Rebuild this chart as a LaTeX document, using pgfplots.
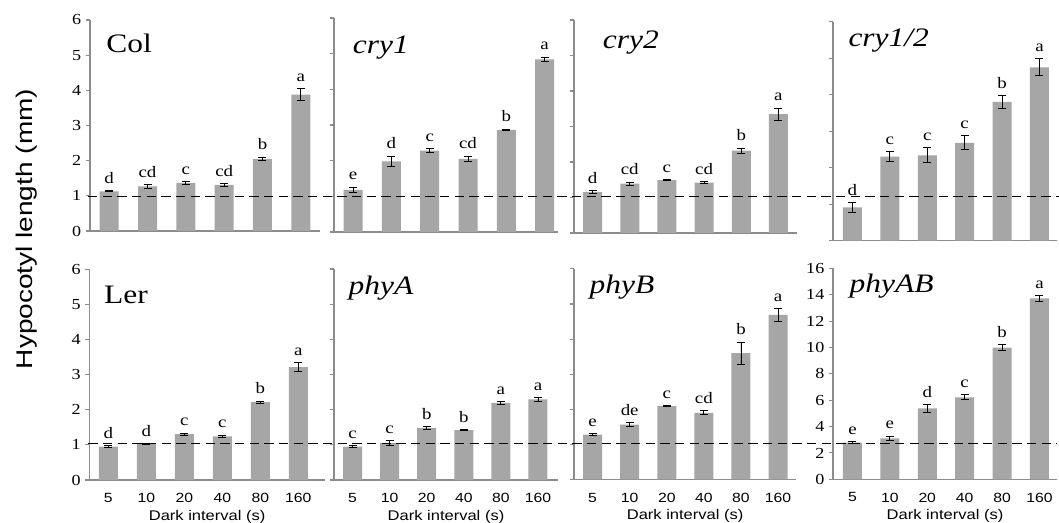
\documentclass[border=0pt]{standalone}
\usepackage{fontspec}
\setmainfont{Liberation Serif}
\newfontfamily\arial{Liberation Sans}
\usepackage{graphicx}
\usepackage{pgfplots}
\pgfplotsset{compat=1.18}
\usepackage{pgfplotstable}

\definecolor{barfill}{HTML}{A6A6A6}
\definecolor{axisgray}{HTML}{8C8C8C}
\newcommand\wide[1]{\scalebox{1.18}[1]{#1}}

% columns: position, mean length, standard error, significance letter
\pgfplotstableread{
x y err lab
0 1.13 0.02 d
1 1.27 0.05 cd
2 1.37 0.04 c
3 1.31 0.04 cd
4 2.05 0.045 b
5 3.88 0.16 a
}\tabCol
\pgfplotstableread{
x y err lab
0 1.18 0.08 e
1 1.98 0.15 d
2 2.28 0.06 c
3 2.05 0.08 cd
4 2.86 0.02 b
5 4.84 0.06 a
}\tabCryOne
\pgfplotstableread{
x y err lab
0 1.15 0.05 d
1 1.39 0.04 cd
2 1.49 0.02 c
3 1.42 0.03 cd
4 2.32 0.075 b
5 3.35 0.17 a
}\tabCryTwo
\pgfplotstableread{
x y err lab
0 0.91 0.14 d
1 2.30 0.14 c
2 2.34 0.20 c
3 2.68 0.19 c
4 3.80 0.18 b
5 4.75 0.23 a
}\tabCryOneTwo
\pgfplotstableread{
x y err lab
0 0.95 0.03 d
1 1.03 0.01 d
2 1.31 0.03 c
3 1.24 0.04 c
4 2.22 0.03 b
5 3.22 0.13 a
}\tabLer
\pgfplotstableread{
x y err lab
0 0.95 0.03 c
1 1.05 0.06 c
2 1.48 0.04 b
3 1.42 0.02 b
4 2.19 0.04 a
5 2.29 0.06 a
}\tabPhyA
\pgfplotstableread{
x y err lab
0 1.28 0.02 e
1 1.56 0.06 de
2 2.09 0.02 c
3 1.90 0.06 cd
4 3.60 0.31 b
5 4.69 0.18 a
}\tabPhyB
\pgfplotstableread{
x y err lab
0 2.78 0.09 e
1 3.10 0.18 e
2 5.38 0.28 d
3 6.22 0.19 c
4 9.98 0.23 b
5 13.72 0.23 a
}\tabPhyAB

\pgfplotsset{
  panel/.style={
    scale only axis, anchor=south west, clip=false,
    axis lines*=left, axis line style={axisgray, line width=0.8pt, -},
    xmin=-0.5, xmax=5.5, ymin=0, ymax=6, ytick={0,1,...,6},
    xtick={0,...,5}, xticklabels={}, yticklabels={},
    tick align=outside, major tick length=3pt,
    ytick style={axisgray, line width=0.8pt}, xtick style={draw=none},
    /pgf/number format/assume math mode=true,
  },
  withlabels/.style={
    yticklabel={\wide{\pgfmathprintnumber{\tick}}},
    yticklabel style={font=\fontsize{11.5}{13}\selectfont, black},
  },
  bottomrow/.style={
    xticklabels={\wide{5},\wide{10},\wide{20},\wide{40},\wide{80},\wide{160}},
    xticklabel style={font=\arial\fontsize{10}{12}\selectfont, yshift=-3.5pt},
    xlabel={\wide{Dark interval (s)}},
    xlabel style={font=\arial\fontsize{10.5}{12}\selectfont, yshift=1.25pt},
  },
  bars/.style={ybar, bar width=14.25pt, fill=barfill, draw=none,
    error bars/.cd, y dir=both, y explicit,
    error bar style={black, line width=0.7pt},
    error mark options={black, line width=0.7pt, mark size=3pt, rotate=90}},
  letters/.style={draw=none, nodes near coords={\wide{\pgfplotspointmeta}},
    point meta=explicit symbolic,
    nodes near coords style={font=\fontsize{12}{14}\selectfont, anchor=base, yshift=5.5pt, black}},
  reference/.style={forget plot, black, line width=0.75pt, dash pattern=on 7pt off 4pt},
}
\newcommand\paneltitle[3]{\node[anchor=base west, font=\fontsize{20}{24}\selectfont, inner sep=0pt] at (rel axis cs:#1,#2) {\wide{#3}};}
\newcommand\panelbars[1]{%
  \addplot[bars] table[x=x, y=y, y error=err] {#1};
  \addplot[letters] table[x=x, y expr=\thisrow{y}+\thisrow{err}, meta=lab] {#1};}

\begin{document}
\begin{tikzpicture}
\path[use as bounding box] (0,0) rectangle (794.25pt,-392.25pt);

% ---- top row ----
\begin{axis}[panel, at={(250.5pt,-174pt)}, width=168pt, height=160.5pt, xmax=5.35]
  \panelbars{\tabCryOne}
  \paneltitle{0.083}{0.835}{\itshape cry1}
\end{axis}
\begin{axis}[panel, at={(430.5pt,-174.75pt)}, width=167.25pt, height=159.75pt]
  \panelbars{\tabCryTwo}
  \paneltitle{0.128}{0.867}{\itshape cry2}
\end{axis}
\begin{axis}[panel, at={(624.75pt,-180.5pt)}, width=168pt, height=164.25pt, xmin=-0.52, xmax=5.47]
  \panelbars{\tabCryOneTwo}
  \paneltitle{0.068}{0.886}{\itshape cry1/2}
\end{axis}
\begin{axis}[panel, withlabels, at={(67.5pt,-173.25pt)}, width=172.5pt, height=158.25pt]
  \panelbars{\tabCol}
  \paneltitle{0.07}{0.844}{Col}
  \addplot[reference] coordinates {(-0.55,0.98) (24.78,0.98)};
\end{axis}

% ---- bottom row ----
\begin{axis}[panel, bottomrow, at={(250.5pt,-360pt)}, width=168pt, height=158.25pt, xmax=5.54]
  \panelbars{\tabPhyA}
  \paneltitle{0.064}{0.877}{\itshape phyA}
\end{axis}
\begin{axis}[panel, bottomrow, at={(430.5pt,-359.6pt)}, width=166.7pt, height=157.9pt, xmax=5.49]
  \panelbars{\tabPhyB}
  \paneltitle{0.069}{0.885}{\itshape phyB}
\end{axis}
\begin{axis}[panel, withlabels, bottomrow, at={(624.75pt,-359.5pt)}, width=168pt, height=158.25pt,
    xmin=-0.52, xmax=5.47, ymax=16, ytick={0,2,...,16}]
  \panelbars{\tabPhyAB}
  \paneltitle{0.073}{0.886}{\itshape phyAB}
\end{axis}
\begin{axis}[panel, withlabels, bottomrow, at={(67pt,-360pt)}, width=176.7pt, height=157.9pt, xmax=5.7]
  \panelbars{\tabLer}
  \paneltitle{0.062}{0.839}{Ler}
  \addplot[reference] coordinates {(-0.53,1.03) (24.97,1.03)};
\end{axis}

\node[anchor=base, rotate=90, yscale=0.81, font=\arial\fontsize{21}{24}\selectfont, inner sep=0pt]
  at (24pt,-171.75pt) {Hypocotyl length (mm)};
\end{tikzpicture}
\end{document}
